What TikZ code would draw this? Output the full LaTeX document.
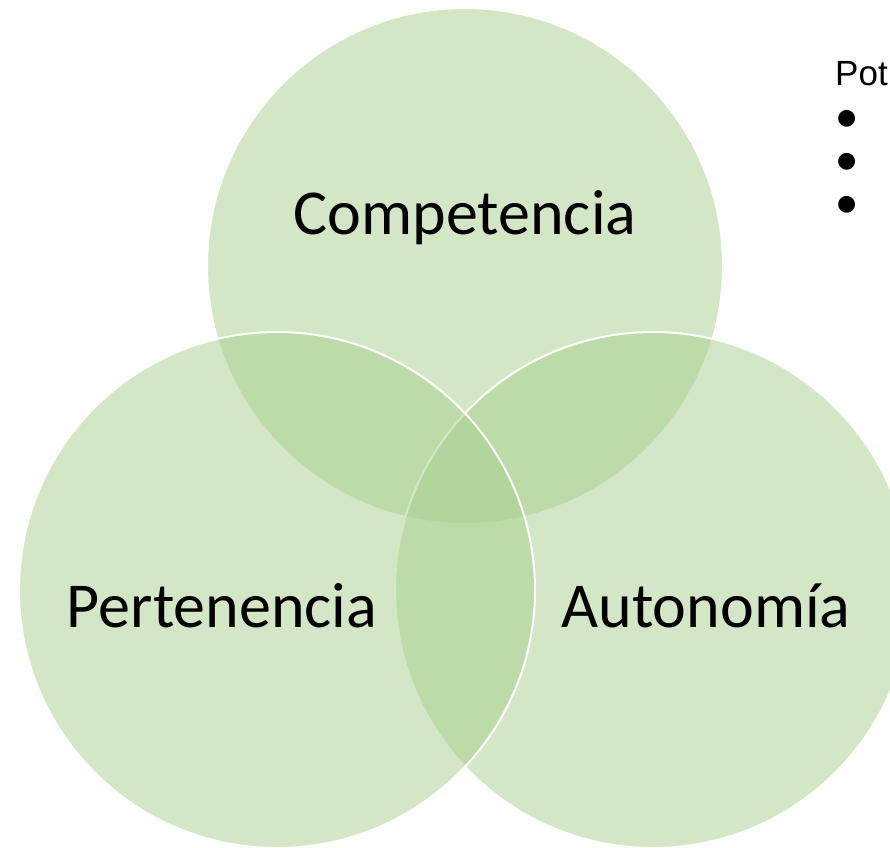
\documentclass[tikz,border=0pt]{standalone}
\usepackage{fontspec}
\setmainfont{Carlito}
\newfontfamily\arialfont{Liberation Sans}
\newfontfamily\symbolfont{DejaVu Sans}
\definecolor{vennfill}{HTML}{A9D08E}
\tikzset{
  vennset/.style={fill=vennfill, fill opacity=0.5, draw=white, line width=2pt},
  setlabel/.style={font=\fontsize{64}{72}\selectfont, anchor=base},
  listtext/.style={font=\arialfont\fontsize{35}{40}\selectfont, anchor=base west, inner sep=0pt},
  listbullet/.style={font=\symbolfont\fontsize{22}{26}\selectfont, anchor=base west, inner sep=0pt}
}
\begin{document}
\begin{tikzpicture}[x=1pt,y=-1pt]
\clip (0,0) rectangle (890,847);
\fill[white] (0,0) rectangle (890,847);
\draw[vennset] (465,266) circle (258);
\draw[vennset] (653,590) circle (258);
\draw[vennset] (277,590) circle (258);

\node[listtext] (pot) at (835,85) {Pot};
\node[listbullet] (item1) at (837,124) {●};
\node[listbullet] (item2) at (837,167) {●};
\node[listbullet] (item3) at (837,210) {●};

\node[setlabel] (competencia) at (465,234) {Competencia};
\node[setlabel] (pertenencia) at (222,627) {Pertenencia};
\node[setlabel] (autonomia) at (706,627) {Autonomía};
\end{tikzpicture}
\end{document}
